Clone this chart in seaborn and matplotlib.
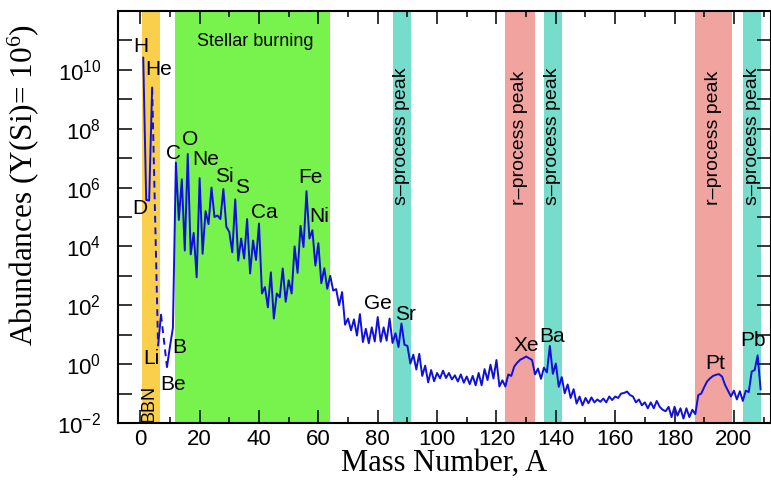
import numpy as np
import pandas as pd
import matplotlib
matplotlib.use("Agg")
import matplotlib.pyplot as plt
import seaborn as sns

# log10 abundances (Y(Si)=1e6) vs mass number; nan = no stable isobar
mass_number = list(range(1, 210))
log_abund = [
    10.42, 5.58, 5.56, 9.40, np.nan, 0.63, 1.68, np.nan, -0.10, 0.60,      # 1-10
    1.23, 6.85, 4.90, 6.28, 3.86, 7.14, 3.73, 4.46, 2.95, 6.32,            # 11-20
    3.75, 5.20, 4.76, 6.00, 5.00, 5.05, 4.93, 5.95, 4.67, 4.49,            # 21-30
    3.80, 5.60, 3.52, 4.27, 3.59, 4.93, 3.08, 4.20, 3.54, 4.78,            # 31-40
    2.40, 2.62, 1.93, 3.12, 1.55, 2.40, 2.27, 3.25, 2.12, 2.85,            # 41-50
    2.40, 4.00, 3.10, 4.70, 3.98, 5.88, 4.27, 4.55, 3.35, 4.11,            # 51-60
    2.75, 3.26, 2.56, 3.00, 2.50, 2.55, 2.00, 2.45, 1.34, 1.55,            # 61-70
    1.15, 1.52, 0.97, 1.70, 0.75, 1.20, 0.71, 1.25, 0.77, 1.60,            # 71-80
    0.76, 1.25, 0.80, 1.55, 0.72, 1.05, 0.58, 1.38, 0.66, 0.62,            # 81-90
    0.02, 0.32, -0.18, 0.35, -0.40, -0.05, -0.62, -0.20, -0.58, -0.30,     # 91-100
    -0.48, -0.22, -0.47, -0.30, -0.52, -0.38, -0.59, -0.35, -0.63, -0.42,  # 101-110
    -0.68, -0.40, -0.72, -0.30, -0.72, -0.17, -0.54, -0.02, -0.49, 0.14,   # 111-120
    -0.76, -0.55, -0.76, -0.35, -0.40, -0.08, 0.05, 0.15, 0.20, 0.26,      # 121-130
    0.20, 0.14, -0.35, -0.15, -0.50, -0.12, -0.28, 0.62, -0.33, 0.02,      # 131-140
    -0.77, -0.44, -0.99, -0.69, -1.15, -0.85, -1.34, -1.10, -1.40, -1.15,  # 141-150
    -1.33, -1.13, -1.30, -1.20, -1.28, -1.17, -1.30, -1.10, -1.22, -1.10,  # 151-160
    -1.15, -1.00, -0.98, -0.93, -1.05, -1.10, -1.30, -1.20, -1.40, -1.30,  # 161-170
    -1.50, -1.30, -1.50, -1.25, -1.45, -1.55, -1.60, -1.45, -1.80, -1.45,  # 171-180
    -1.75, -1.50, -1.85, -1.50, -1.80, -1.55, -1.70, -1.05, -1.00, -0.78,  # 181-190
    -0.58, -0.48, -0.40, -0.36, -0.34, -0.42, -0.70, -0.90, -1.10, -0.90,  # 191-200
    -1.20, -0.92, -1.25, -0.90, -0.95, -0.25, -0.20, 0.30, -0.86,          # 201-209
]

# shaded regions (mass number ranges)
band_bbn = (0.7, 6.8)
band_stellar = (11.8, 63.8)
s_peaks = [(85.1, 91.1), (136.0, 142.1), (203.0, 209.2)]
r_peaks = [(122.8, 132.9), (187.0, 199.2)]

# element labels: name, A, log10 y
elem_names = ["H", "He", "D", "Li", "Be", "B", "C", "O", "Ne", "Si", "S", "Ca",
              "Fe", "Ni", "Ge", "Sr", "Xe", "Ba", "Pt", "Pb"]
elem_x = [0.3, 6.3, 0.0, 3.7, 11.2, 13.0, 11.2, 16.9, 22.0, 28.4, 34.4, 41.9,
          57.3, 60.4, 80.1, 89.4, 130.1, 138.9, 193.6, 206.5]
elem_logy = [10.79, 10.0, 5.30, 0.19, -0.68, 0.57, 7.17, 7.64, 6.94, 6.37, 6.0, 5.16,
             6.34, 5.01, 2.06, 1.67, 0.65, 0.93, 0.02, 0.82]

sns.set_style("ticks")
plt.rcParams["font.family"] = ["Liberation Sans", "DejaVu Sans"]
plt.rcParams["mathtext.default"] = "regular"
plt.rcParams["text.color"] = "black"
plt.rcParams["axes.labelcolor"] = "black"
plt.rcParams["xtick.color"] = "black"
plt.rcParams["ytick.color"] = "black"

df = pd.DataFrame({"A": mass_number, "logY": log_abund})
df["Y"] = 10 ** df["logY"]
# split solid pieces where isobars are missing
df["seg"] = df["logY"].isna().cumsum()
df = df.dropna()

fig = plt.figure(figsize=(7.71, 4.83), dpi=100)
ax = fig.add_axes([118 / 771, 60 / 483, 653 / 771, 412 / 483])
ax.set_yscale("log")

ax.axvspan(*band_bbn, color="#f9cf4b", lw=0, zorder=0)
ax.axvspan(*band_stellar, color="#78f24c", lw=0, zorder=0)
for lo, hi in s_peaks:
    ax.axvspan(lo, hi, color="#76dccc", lw=0, zorder=0)
for lo, hi in r_peaks:
    ax.axvspan(lo, hi, color="#f0a39f", lw=0, zorder=0)

blue = "#1010dd"
sns.lineplot(data=df, x="A", y="Y", units="seg", estimator=None, sort=False,
             color=blue, lw=1.4, ax=ax, zorder=3)
# dashed bridges across the A=5 and A=8 gaps
lookup = dict(zip(df["A"], df["Y"]))
for a0, a1 in [(4, 6), (7, 9)]:
    sns.lineplot(x=[a0, a1], y=[lookup[a0], lookup[a1]], color=blue, lw=1.4,
                 linestyle=(0, (3.5, 2.5)), ax=ax, zorder=3)

ax.set_xlim(-7.5, 212.5)
ax.set_ylim(1e-2, 1e12)

ax.set_xticks(range(0, 201, 20))
ax.set_xticks(range(10, 211, 20), minor=True)
ax.set_yticks([10.0 ** e for e in range(-2, 11, 2)],
              [f"$10^{{{e}}}$" for e in range(-2, 11, 2)])
ax.set_yticks([10.0 ** e for e in range(-1, 12, 2)], minor=True)
ax.yaxis.set_minor_formatter(matplotlib.ticker.NullFormatter())

ax.tick_params(which="both", direction="in", top=True, right=True, width=1.1)
ax.tick_params(axis="x", which="major", length=9.5, labelsize=16, pad=4)
ax.tick_params(axis="x", which="minor", length=4.5)
ax.tick_params(axis="y", which="both", length=10, labelsize=16, pad=12)
for sp in ax.spines.values():
    sp.set_linewidth(1.5)
    sp.set_color("black")

ax.set_xlabel("Mass Number, A", family="Liberation Serif", fontsize=22)
ax.set_ylabel("Abundances (Y(Si)= 10$^6$)", family="Liberation Serif", fontsize=22.5)
ax.xaxis.set_label_coords(0.5, -0.062)
ax.yaxis.set_label_coords(-0.118, 0.578)

for name, x, ly in zip(elem_names, elem_x, elem_logy):
    ax.text(x, 10 ** ly, name, fontsize=15, ha="center", va="center", zorder=4)

ax.text(38.9, 10 ** 10.95, "Stellar burning", fontsize=13, ha="center", va="center")
ax.text(3.1, 10 ** -1.97, "BBN", fontsize=13, rotation=90, ha="center", va="bottom")
for lo, hi in s_peaks:
    ax.text((lo + hi) / 2, 10 ** 5.41, "s\u2013process peak", fontsize=14,
            rotation=90, ha="center", va="bottom")
for lo, hi in r_peaks:
    ax.text((lo + hi) / 2, 10 ** 5.41, "r\u2013process peak", fontsize=14,
            rotation=90, ha="center", va="bottom")

fig.savefig("out.png", dpi=100)
